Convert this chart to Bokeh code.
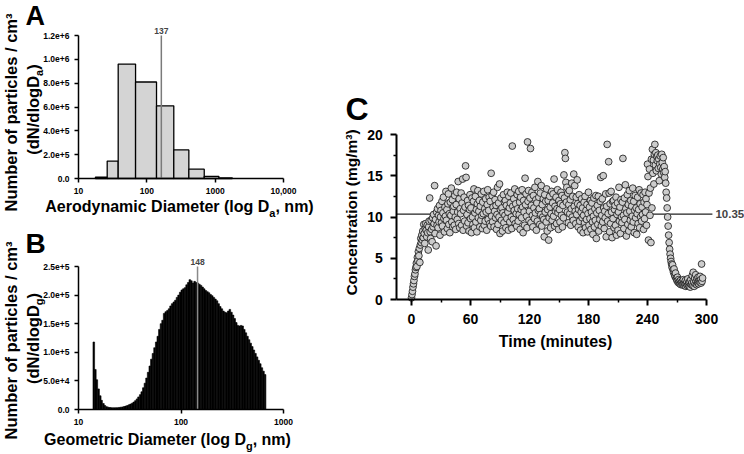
import math
from bokeh.plotting import figure
from bokeh.layouts import row, column
from bokeh.models import Label, FixedTicker, Range1d
from bokeh.embed import file_html
from bokeh.resources import INLINE

FONT = "Liberation Sans"

# ---------------- Panel A : aerodynamic size distribution ----------------
da_edges = [17.7, 26.3, 38.1, 68.4, 138.6, 248, 412, 692, 1133, 1778]
da_counts = [12000, 146000, 960000, 810000, 610000, 240000, 78000, 18000, 6000]
da_median_pos = 163
da_median_label = "137"
a_yticks = [0, 200000, 400000, 600000, 800000, 1000000, 1200000]
a_ytick_labels = ["0.0", "2.0e+5", "4.0e+5", "6.0e+5", "8.0e+5", "1.0e+6", "1.2e+6"]
a_xticks = [10, 100, 1000, 10000]
a_xtick_labels = ["10", "100", "1000", "10,000"]

# ---------------- Panel B : geometric size distribution ----------------
dg_mid = [14.1, 14.6, 15.1, 15.7, 16.3, 16.8, 17.5, 18.1, 18.8, 19.5,
          20.2, 20.9, 21.7, 22.5, 23.3, 24.1, 25.0, 25.9, 26.9, 27.9,
          28.9, 30.0, 31.1, 32.2, 33.4, 34.6, 35.9, 37.2, 38.5, 40.0,
          41.4, 42.9, 44.5, 46.1, 47.8, 49.6, 51.4, 53.3, 55.2, 57.3,
          59.4, 61.5, 63.8, 66.1, 68.5, 71.0, 73.7, 76.4, 79.1, 82.0,
          85.1, 88.2, 91.4, 94.7, 98.2, 101.8, 105.5, 109.4, 113.4, 117.6,
          121.9, 126.3, 131.0, 135.8, 140.7, 145.9, 151.2, 156.8, 162.5, 168.5,
          174.7, 181.1, 187.7, 194.6, 201.7, 209.1, 216.7, 224.7, 232.9, 241.4,
          250.3, 259.5, 269.0, 278.8, 289.0, 299.6, 310.6, 322.0, 333.8, 346.0,
          358.7, 371.8, 385.4, 399.5, 414.2, 429.4, 445.1, 461.4, 478.3, 495.8,
          514.0, 532.8, 552.3, 572.5, 593.5, 615.3, 637.8, 661.2]
dg_conc = [118000, 70000, 52000, 36000, 24000, 16000, 10500, 7000, 5000, 4000,
           3500, 3200, 3000, 3000, 3000, 3200, 3600, 4000, 4500, 5200,
           6000, 7000, 8200, 9500, 11000, 13000, 15500, 18500, 22000, 26000,
           31000, 38000, 46000, 55000, 65000, 76000, 88000, 98000, 108000, 118000,
           128000, 140000, 150000, 156000, 168000, 171000, 173000, 176000, 181000, 185000,
           188000, 191000, 196000, 200000, 205000, 209000, 211000, 213000, 218000, 222000,
           227000, 225000, 221000, 224000, 222000, 221000, 219000, 217000, 214000, 211000,
           208000, 206000, 204000, 201000, 199000, 196000, 193000, 190000, 185000, 180000,
           176000, 172000, 170000, 169000, 172000, 175000, 170000, 165000, 159000, 152000,
           147000, 146000, 147000, 146000, 140000, 134000, 128000, 122000, 116000, 110000,
           104000, 98000, 92000, 86000, 80000, 73000, 67000, 61000]
dg_channels_per_decade = 64
dg_median_pos = 145
dg_median_label = "148"
b_yticks = [0, 50000, 100000, 150000, 200000, 250000]
b_ytick_labels = ["0.0", "5.0e+4", "1.0e+5", "1.5e+5", "2.0e+5", "2.5e+5"]
b_xticks = [10, 100, 1000]
b_xtick_labels = ["10", "100", "1000"]

# ---------------- Panel C : concentration vs time ----------------
sample_step = 0.5  # minutes between readings
conc = [
    0.2, 0.6, 1.0, 1.5, 1.9, 2.3, 2.8, 3.1, 3.6, 3.9,
    4.4, 4.0, 5.1, 4.7, 5.8, 5.3, 6.2, 4.5, 6.6, 7.4,
    6.9, 7.8, 7.2, 8.3, 7.5, 9.1, 8.0, 6.8, 8.6, 9.2,
    8.4, 7.6, 9.0, 8.1, 6.0, 8.8, 9.5, 12.3, 8.2, 7.4,
    9.6, 8.5, 7.0, 9.9, 8.8, 10.3, 9.2, 13.8, 8.0, 9.7,
    6.5, 10.6, 9.0, 11.0, 8.7, 10.2, 9.4, 11.4, 7.8, 10.0,
    10.8, 9.3, 11.9, 8.9, 10.5, 12.4, 9.8, 8.2, 11.2, 10.1,
    13.1, 9.6, 10.9, 8.6, 11.6, 12.8, 9.1, 10.4, 8.1, 11.8,
    10.2, 13.5, 9.4, 12.1, 8.8, 10.7, 11.3, 9.0, 12.6, 10.0,
    8.5, 11.5, 13.0, 9.7, 10.6, 14.3, 9.2, 12.2, 8.7, 11.0,
    10.4, 12.9, 9.0, 11.7, 14.6, 8.4, 10.8, 12.4, 9.5, 11.2,
    16.2, 14.8, 8.9, 10.3, 12.0, 9.3, 11.4, 8.3, 10.9, 12.7,
    9.8, 11.1, 8.1, 12.3, 10.0, 9.1, 11.9, 13.4, 8.7, 10.5,
    12.5, 9.4, 10.9, 8.2, 11.6, 13.2, 9.9, 10.7, 12.0, 8.8,
    11.3, 9.6, 12.8, 10.2, 8.6, 11.8, 10.4, 13.1, 9.0, 11.0,
    9.5, 12.2, 10.6, 8.4, 11.5, 13.3, 9.7, 10.8, 12.4, 9.2,
    11.9, 8.9, 15.3, 10.1, 12.6, 9.4, 11.2, 13.0, 8.8, 10.7,
    12.1, 9.9, 11.4, 8.5, 10.3, 13.6, 9.1, 11.7, 10.0, 14.0,
    8.0, 10.9, 12.3, 9.6, 11.1, 8.3, 10.5, 12.7, 9.3, 11.8,
    10.2, 12.0, 8.7, 11.4, 9.8, 13.0, 10.6, 8.4, 12.5, 11.1,
    9.4, 11.7, 12.9, 10.0, 8.6, 18.6, 11.3, 9.7, 12.2, 10.8,
    13.4, 9.2, 11.6, 10.4, 8.9, 12.7, 11.0, 9.5, 13.1, 10.3,
    11.8, 8.5, 12.4, 10.9, 9.9, 13.3, 11.2, 8.1, 12.0, 10.6,
    9.0, 14.7, 11.5, 12.8, 10.1, 8.7, 19.1, 11.9, 13.2, 9.6,
    10.7, 12.3, 18.3, 9.3, 11.4, 13.0, 10.2, 8.8, 12.6, 11.1,
    9.8, 13.6, 10.5, 12.1, 8.4, 11.7, 9.5, 14.3, 10.8, 12.4,
    11.0, 9.1, 12.9, 10.3, 13.8, 8.9, 11.5, 10.0, 12.2, 9.7,
    7.6, 12.7, 10.6, 11.9, 9.4, 13.4, 8.3, 10.9, 12.0, 7.2,
    9.9, 12.5, 11.2, 8.7, 10.4, 13.1, 9.6, 11.7, 12.8, 10.1,
    14.6, 8.9, 11.3, 10.7, 12.4, 9.2, 11.0, 13.3, 10.5, 8.5,
    12.0, 10.9, 9.4, 11.6, 13.0, 10.2, 12.6, 8.8, 11.4, 9.9,
    15.1, 12.3, 17.8, 17.1, 14.2, 11.8, 13.6, 10.6, 12.9, 9.3,
    11.5, 13.2, 10.4, 12.1, 9.0, 11.0, 14.1, 10.0, 12.5, 9.6,
    15.2, 11.3, 13.8, 10.7, 9.2, 12.4, 10.3, 14.5, 11.6, 8.8,
    10.9, 12.7, 9.5, 11.4, 8.4, 10.6, 12.2, 9.9, 11.1, 8.1,
    10.2, 11.8, 9.3, 12.5, 8.7, 10.8, 9.7, 11.5, 8.2, 10.4,
    13.0, 9.0, 11.2, 9.8, 12.0, 8.5, 10.6, 11.7, 9.4, 7.9,
    10.1, 12.3, 8.8, 11.0, 9.6, 12.6, 7.4, 10.5, 11.4, 9.1,
    12.5, 8.3, 10.8, 9.7, 11.9, 14.8, 8.9, 10.2, 12.2, 9.4,
    15.0, 11.1, 8.6, 10.7, 9.9, 12.8, 7.6, 11.3, 18.8, 9.5,
    10.4, 16.7, 12.9, 8.2, 11.6, 9.2, 13.1, 10.6, 7.5, 11.9,
    9.8, 12.0, 8.7, 10.9, 11.4, 9.0, 12.4, 7.8, 10.3, 11.7,
    8.4, 10.6, 13.6, 9.5, 11.2, 8.0, 12.1, 10.0, 9.3, 11.8,
    17.1, 10.2, 8.6, 12.3, 9.7, 13.9, 11.0, 7.7, 10.5, 12.7,
    9.1, 11.5, 8.3, 13.2, 10.7, 9.6, 12.0, 8.8, 11.3, 10.1,
    13.5, 9.4, 11.9, 8.1, 10.8, 12.6, 9.9, 11.1, 7.9, 10.4,
    12.4, 9.2, 10.9, 13.3, 8.7, 11.6, 10.0, 12.9, 9.5, 11.2,
    10.3, 12.7, 8.5, 11.8, 9.8, 13.0, 10.6, 12.2, 9.0, 11.5,
    16.4, 14.9, 7.2, 12.9, 15.8, 10.2, 13.5, 6.9, 17.0, 11.1,
    18.2, 15.3, 16.9, 14.0, 17.6, 18.8, 16.3, 17.8, 15.6, 17.3,
    16.8, 17.5, 15.9, 17.0, 14.4, 16.4, 17.4, 16.0, 15.2, 17.6,
    16.6, 15.8, 17.2, 15.4, 16.1, 14.8, 15.5, 14.1, 13.0, 12.3,
    11.1, 10.0, 8.9, 7.8, 6.9, 6.1, 5.5, 5.0, 4.6, 4.3,
    3.9, 4.2, 3.6, 3.3, 3.7, 3.0, 2.8, 3.2, 2.6, 2.5,
    2.3, 2.7, 2.1, 2.4, 2.0, 2.2, 1.9, 2.3, 1.8, 2.1,
    1.9, 2.2, 1.8, 2.4, 1.7, 2.0, 1.8, 2.3, 1.6, 1.9,
    2.1, 1.7, 2.5, 1.8, 2.0, 1.6, 2.2, 1.5, 2.4, 1.8,
    2.0, 2.9, 1.7, 3.3, 2.1, 1.6, 2.6, 1.9, 3.0, 2.2,
    1.8, 2.5, 2.0, 2.7, 1.9, 2.3, 2.1, 2.8, 2.4, 2.0,
    4.3, 2.2, 2.6,
]
times = [i * sample_step for i in range(len(conc))]
mean_conc = 10.35
mean_label = "10.35"
c_xticks = [0, 60, 120, 180, 240, 300]
c_xminor = [30, 90, 150, 210, 270]
c_yticks = [0, 5, 10, 15, 20]
c_yminor = [2.5, 7.5, 12.5, 17.5]
c_xaxis_start = -15
c_mean_line_end = 306

# ---------------- helpers ----------------
ARIAL_BOLD = {" ": 278, "(": 333, ")": 333, ",": 278, ".": 278, "/": 278,
              "A": 722, "C": 722, "D": 722, "G": 778, "N": 722, "T": 611,
              "a": 556, "c": 556, "d": 611, "e": 556, "f": 333, "g": 611,
              "i": 278, "l": 278, "m": 889, "n": 611, "o": 611, "p": 611,
              "r": 389, "s": 556, "t": 333, "u": 611, "y": 556, "\u00b3": 333}
MID = 0.35  # distance (in em) from the alphabetic baseline up to the "middle" anchor


def tw(s, size):
    return sum(ARIAL_BOLD.get(ch, 556) for ch in s) * size / 1000.0


def axis_range(p_a, v_a, p_b, v_b, size, log=False, from_top=False):
    """Range whose values v_a, v_b fall at pixels p_a, p_b of a frame `size` px long."""
    f = math.log10 if log else (lambda v: v)
    g = (lambda u: 10 ** u) if log else (lambda u: u)
    ua, ub = f(v_a), f(v_b)
    k = (ub - ua) / (p_b - p_a)
    lo_pix, hi_pix = (size, 0) if from_top else (0, size)
    return Range1d(g(ua + (lo_pix - p_a) * k), g(ua + (hi_pix - p_a) * k))


class Canvas:
    def __init__(self, W, H, x_range, y_range, x_axis_type="linear"):
        self.W, self.H = W, H
        p = figure(width=W, height=H, output_backend="svg", toolbar_location=None,
                   x_range=x_range, y_range=y_range, x_axis_type=x_axis_type,
                   min_border=0)
        p.title.visible = False
        p.outline_line_color = None
        p.grid.visible = False
        p.background_fill_color = "white"
        p.border_fill_color = "white"
        self.p = p

    def put(self, cx, cy, text, size, rotated=False, align="left"):
        """(cx, cy): point on the alphabetic baseline, pixels from the canvas top-left."""
        if rotated:
            x, y, angle = cx - MID * size, cy, math.pi / 2
        else:
            x, y, angle = cx, cy - MID * size, 0.0
        self.p.add_layout(Label(x=x, y=self.H - y, x_units="screen", y_units="screen",
                                text=text, angle=angle, text_align=align,
                                text_baseline="middle", text_font=FONT,
                                text_font_size=f"{size}px", text_font_style="bold",
                                text_color="black"))

    def put_h(self, cx_center, cy_base, parts):
        total = sum(tw(t, s) for t, s, d in parts)
        x = cx_center - total / 2
        for t, s, d in parts:
            self.put(x, cy_base + d, t, s)
            x += tw(t, s)

    def put_v(self, cx_base, cy_center, parts):
        total = sum(tw(t, s) for t, s, d in parts)
        y = cy_center + total / 2
        for t, s, d in parts:
            self.put(cx_base + d, y, t, s, rotated=True)
            y -= tw(t, s)


def style_axis(ax, lw, tick_out, font_size, standoff):
    ax.axis_line_width = lw
    ax.axis_line_color = "black"
    ax.major_tick_line_width = lw
    ax.major_tick_line_color = "black"
    ax.major_tick_out = tick_out
    ax.major_tick_in = 0
    ax.minor_tick_line_color = None
    ax.major_label_text_font = FONT
    ax.major_label_text_font_size = font_size
    ax.major_label_text_font_style = "bold"
    ax.major_label_text_color = "black"
    ax.major_label_standoff = standoff


# ---------------- Panel A ----------------
WA, HA = 336, 220
cA = Canvas(WA, HA,
            axis_range(78, a_xticks[0], 283, a_xticks[-1], WA, log=True),
            axis_range(178, a_yticks[0], 35, a_yticks[-1], HA, from_top=True),
            x_axis_type="log")
pA = cA.p
pA.quad(left=da_edges[:-1], right=da_edges[1:], top=da_counts, bottom=0,
        fill_color="#d4d4d4", line_color="black", line_width=1.3)
pA.segment(x0=[da_median_pos], y0=[0], x1=[da_median_pos], y1=[a_yticks[-1]],
           line_color="#7a7a7a", line_width=1.5)
pA.add_layout(Label(x=da_median_pos, y=a_yticks[-1], y_offset=2, text=da_median_label,
                    text_align="center", text_baseline="bottom", text_font=FONT,
                    text_font_size="8.5px", text_font_style="bold"))
pA.xaxis.ticker = FixedTicker(ticks=a_xticks)
pA.xaxis.major_label_overrides = dict(zip(a_xticks, a_xtick_labels))
pA.xaxis.fixed_location = a_yticks[0]
pA.xaxis.bounds = (a_xticks[0], a_xticks[-1])
pA.yaxis.ticker = FixedTicker(ticks=a_yticks)
pA.yaxis.major_label_overrides = dict(zip(a_yticks, a_ytick_labels))
pA.yaxis.fixed_location = a_xticks[0]
pA.yaxis.bounds = (a_yticks[0], a_yticks[-1])
for ax in (pA.xaxis[0], pA.yaxis[0]):
    style_axis(ax, 1.5, 4, "8.5px", 5)
cA.put(25, 25, "A", 27)
cA.put(16.5, 112, "Number of particles / cm\u00b3", 16.5, rotated=True, align="center")
cA.put_v(38, 109, [("(dN/dlogD", 16.5, 0), ("a", 11, 4), (")", 16.5, 0)])
cA.put_h(179, 212, [("Aerodynamic Diameter (log D", 16, 0), ("a", 11, 4), (", nm)", 16, 0)])

# ---------------- Panel B ----------------
WB, HB = 336, 234
half = 10 ** (0.5 / dg_channels_per_decade)
cB = Canvas(WB, HB,
            axis_range(78, b_xticks[0], 283, b_xticks[-1], WB, log=True),
            axis_range(189, b_yticks[0], 46, b_yticks[-1], HB, from_top=True),
            x_axis_type="log")
pB = cB.p
pB.quad(left=[m / half for m in dg_mid], right=[m * half for m in dg_mid],
        top=dg_conc, bottom=0, fill_color="black", line_color="black", line_width=0.6)
pB.segment(x0=[dg_median_pos], y0=[0], x1=[dg_median_pos], y1=[b_yticks[-1]],
           line_color="#8a8a8a", line_width=1.5)
pB.add_layout(Label(x=dg_median_pos, y=b_yticks[-1], y_offset=2, text=dg_median_label,
                    text_align="center", text_baseline="bottom", text_font=FONT,
                    text_font_size="8.5px", text_font_style="bold"))
pB.xaxis.ticker = FixedTicker(ticks=b_xticks)
pB.xaxis.major_label_overrides = dict(zip(b_xticks, b_xtick_labels))
pB.xaxis.fixed_location = b_yticks[0]
pB.xaxis.bounds = (b_xticks[0], b_xticks[-1])
pB.yaxis.ticker = FixedTicker(ticks=b_yticks)
pB.yaxis.major_label_overrides = dict(zip(b_yticks, b_ytick_labels))
pB.yaxis.fixed_location = b_xticks[0]
pB.yaxis.bounds = (b_yticks[0], b_yticks[-1])
for ax in (pB.xaxis[0], pB.yaxis[0]):
    style_axis(ax, 1.5, 4, "8.5px", 5)
cB.put(25, 33, "B", 28)
cB.put(16.5, 120, "Number of particles / cm\u00b3", 16.5, rotated=True, align="center")
cB.put_v(38, 118, [("(dN/dlogD", 16.5, 0), ("g", 11, 4), (")", 16.5, 0)])
cB.put_h(167, 225, [("Geometric Diameter (log D", 16, 0), ("g", 11, 4), (", nm)", 16, 0)])

# ---------------- Panel C ----------------
WC, HC = 408, 454
cC = Canvas(WC, HC,
            axis_range(75, c_xticks[0], 370, c_xticks[-1], WC),
            axis_range(299, c_yticks[0], 134, c_yticks[-1], HC, from_top=True))
pC = cC.p
pC.segment(x0=[c_xaxis_start], y0=[mean_conc], x1=[c_mean_line_end], y1=[mean_conc],
           line_color="#222222", line_width=1.2)
pC.scatter(x=times, y=conc, size=6.8, fill_color="#cccccc", line_color="#111111",
           line_width=0.8)
pC.add_layout(Label(x=c_mean_line_end, y=mean_conc, x_offset=3, text=mean_label,
                    text_align="left", text_baseline="middle", text_font=FONT,
                    text_font_size="11.5px", text_font_style="bold"))
pC.xaxis.ticker = FixedTicker(ticks=c_xticks, minor_ticks=c_xminor)
pC.xaxis.fixed_location = c_yticks[0]
pC.xaxis.bounds = (c_xaxis_start, c_xticks[-1])
pC.yaxis.ticker = FixedTicker(ticks=c_yticks, minor_ticks=c_yminor)
pC.yaxis.fixed_location = c_xaxis_start
pC.yaxis.bounds = (c_yticks[0], c_yticks[-1])
for ax in (pC.xaxis[0], pC.yaxis[0]):
    style_axis(ax, 2, 6, "14px", 8)
    ax.minor_tick_line_color = "black"
    ax.minor_tick_line_width = 1.5
    ax.minor_tick_out = 3
    ax.minor_tick_in = 0
cC.put(9, 120, "C", 32)
cC.put(20, 212, "Concentration (mg/m\u00b3)", 15.5, rotated=True, align="center")
cC.put(219, 347, "Time (minutes)", 16, align="center")

layout = row(column(pA, pB), pC)
open("out.html", "w").write(file_html(layout, INLINE, "Particle characterization"))
